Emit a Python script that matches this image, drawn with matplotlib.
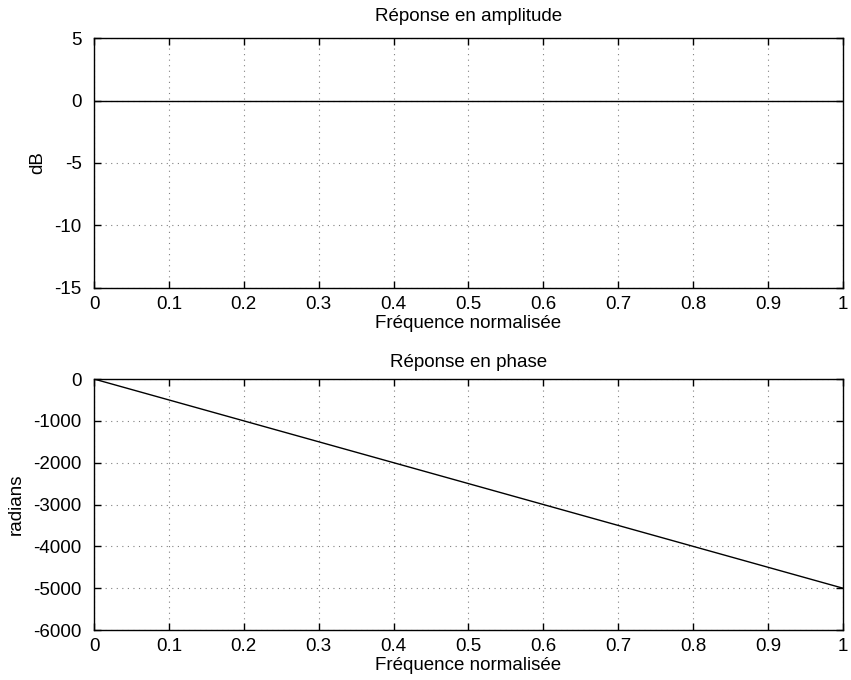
import matplotlib
matplotlib.use("Agg")
import matplotlib.pyplot as plt

plt.rcParams['font.family'] = ['Liberation Sans', 'DejaVu Sans']
plt.rcParams['font.size'] = 13.5

# Data
freq = [0.0, 0.25, 0.5, 0.75, 1.0]
amplitude_db = [0, 0, 0, 0, 0]
phase_rad = [0, -1250, -2500, -3750, -5000]

xticks = [0, 0.1, 0.2, 0.3, 0.4, 0.5, 0.6, 0.7, 0.8, 0.9, 1]
xticklabels = ['0', '0.1', '0.2', '0.3', '0.4', '0.5', '0.6', '0.7', '0.8', '0.9', '1']
amp_ticks = [-15, -10, -5, 0, 5]
phase_ticks = [-6000, -5000, -4000, -3000, -2000, -1000, 0]

fig = plt.figure(figsize=(8.51, 6.8), dpi=100)
ax1 = fig.add_axes([0.1105, 0.5765, 0.88, 0.3676])
ax2 = fig.add_axes([0.1105, 0.0735, 0.88, 0.3691])


def style(ax):
    ax.set_xlim(0, 1)
    ax.set_xticks(xticks)
    ax.set_xticklabels(xticklabels)
    ax.grid(True, linestyle=(0, (1, 4)), color='#808080', linewidth=0.8)
    ax.tick_params(direction='in', top=True, right=True, length=5, width=1)
    ax.tick_params(axis='x', pad=6)
    ax.tick_params(axis='y', pad=9)
    for s in ax.spines.values():
        s.set_linewidth(1)
    ax.set_xlabel('Fréquence normalisée', labelpad=1)


ax1.plot(freq, amplitude_db, color='black', linewidth=1)
ax1.set_ylim(-15, 5)
ax1.set_yticks(amp_ticks)
ax1.set_yticklabels([str(t) for t in amp_ticks])
ax1.set_ylabel('dB', labelpad=6)
ax1.set_title('Réponse en amplitude', fontsize=13.5, pad=12)
style(ax1)

ax2.plot(freq, phase_rad, color='black', linewidth=1)
ax2.set_ylim(-6000, 0)
ax2.set_yticks(phase_ticks)
ax2.set_yticklabels([str(t) for t in phase_ticks])
ax2.set_ylabel('radians', labelpad=6)
ax2.set_title('Réponse en phase', fontsize=13.5, pad=9)
style(ax2)

fig.savefig('out.png', dpi=100)
